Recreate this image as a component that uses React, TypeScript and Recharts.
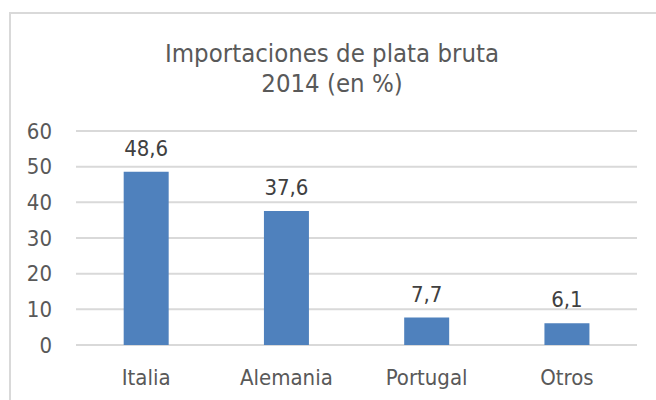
import { BarChart, Bar, XAxis, YAxis, CartesianGrid, LabelList } from "recharts";

const categories = ["Italia", "Alemania", "Portugal", "Otros"];
const values = [48.6, 37.6, 7.7, 6.1];
const yTicks = [0, 10, 20, 30, 40, 50, 60];
const titleLines = ["Importaciones de plata bruta", "2014 (en %)"];

const data = categories.map((c, i) => ({ c, v: values[i] }));
const font = "'DejaVu Sans Condensed', 'DejaVu Sans', sans-serif";

export default function App() {
  return (
    <div style={{ position: "absolute", left: 0, top: 0, width: 656, height: 400, overflow: "hidden", background: "#fff" }}>
      <div style={{ position: "absolute", left: 9, top: 12, width: 700, height: 420, border: "2px solid #d9d9d9", boxSizing: "border-box" }} />
      <div style={{ position: "absolute", left: 0, top: 39, width: 664, textAlign: "center", fontFamily: font, fontSize: 25.5, lineHeight: "29.5px", color: "#595959" }}>
        {titleLines.map((t) => (
          <div key={t}>{t}</div>
        ))}
      </div>
      <div style={{ position: "absolute", left: 0, top: 0 }}>
        <BarChart width={656} height={400} data={data} margin={{ top: 131, right: 19, left: 0, bottom: 0 }} barCategoryGap="34%">
          <CartesianGrid vertical={false} stroke="#d9d9d9" strokeWidth={2} />
          <XAxis dataKey="c" axisLine={false} tickLine={false} tickSize={0} tickMargin={24} height={55}
            tick={{ fill: "#595959", fontSize: 22, fontFamily: font }} />
          <YAxis domain={[0, 60]} ticks={yTicks} axisLine={false} tickLine={false} tickSize={0} tickMargin={24} width={76}
            tick={{ fill: "#595959", fontSize: 22, fontFamily: font }} />
          <Bar dataKey="v" fill="#4f81bd" isAnimationActive={false}>
            <LabelList dataKey="v" position="top" offset={16} fill="#404040" fontSize={22} fontFamily={font}
              formatter={(v: any) => String(v).replace(".", ",")} />
          </Bar>
        </BarChart>
      </div>
    </div>
  );
}
